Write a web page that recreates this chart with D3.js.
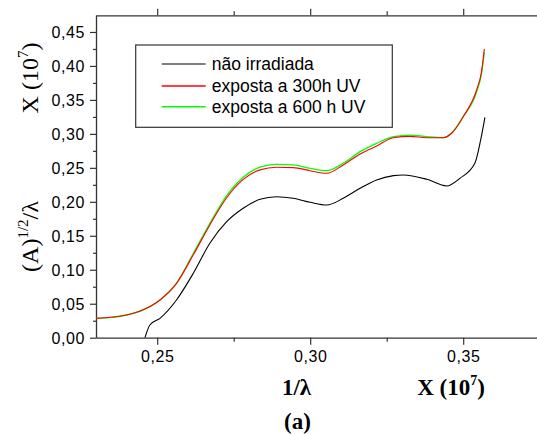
<!DOCTYPE html>
<html>
<head>
<meta charset="utf-8">
<script src="https://cdn.jsdelivr.net/npm/d3@7"></script>
<style>
  html, body { margin: 0; padding: 0; background: #fff; }
  svg { display: block; }
</style>
</head>
<body>
<svg id="chart" width="537" height="434"></svg>
<script>
// ---- data ----
const xColored = [0.2300, 0.2350, 0.2400, 0.2454, 0.2509, 0.2563, 0.2618, 0.2672, 0.2727, 0.2781, 0.2836, 0.2890, 0.2944, 0.3000, 0.3054, 0.3108, 0.3163, 0.3217, 0.3272, 0.3326, 0.3381, 0.3435, 0.3462, 0.3500, 0.3544, 0.3560, 0.3569];
const yGreen   = [0.0285, 0.0300, 0.0334, 0.0410, 0.0555, 0.0800, 0.1240, 0.1680, 0.2090, 0.2360, 0.2510, 0.2552, 0.2543, 0.2493, 0.2458, 0.2567, 0.2738, 0.2861, 0.2959, 0.2983, 0.2959, 0.2944, 0.3009, 0.3253, 0.3620, 0.3890, 0.4200];
const yRed     = [0.0285, 0.0300, 0.0334, 0.0410, 0.0555, 0.0800, 0.1220, 0.1660, 0.2060, 0.2330, 0.2470, 0.2508, 0.2504, 0.2458, 0.2420, 0.2542, 0.2704, 0.2822, 0.2944, 0.2964, 0.2944, 0.2944, 0.3009, 0.3253, 0.3650, 0.3920, 0.4250];
const xBlack   = [0.2460, 0.2476, 0.2509, 0.2563, 0.2618, 0.2672, 0.2727, 0.2781, 0.2836, 0.2890, 0.2944, 0.3000, 0.3054, 0.3108, 0.3163, 0.3217, 0.3272, 0.3304, 0.3381, 0.3446, 0.3489, 0.3538, 0.3557, 0.3571];
const yBlack   = [0.0000, 0.0187, 0.0285, 0.0555, 0.0948, 0.1390, 0.1707, 0.1905, 0.2037, 0.2075, 0.2052, 0.1993, 0.1953, 0.2052, 0.2199, 0.2321, 0.2385, 0.2395, 0.2331, 0.2233, 0.2346, 0.2567, 0.2910, 0.3244];

const seriesNames = ["não irradiada", "exposta a 300h UV", "exposta a 600 h UV"];
const seriesColors = ["#000000", "#ff0000", "#00ff00"];
const xMajorTicks = [0.25, 0.30, 0.35];
const xMinorTicks = [0.275, 0.325];
const yMajorTicks = [0.00, 0.05, 0.10, 0.15, 0.20, 0.25, 0.30, 0.35, 0.40, 0.45];
const yMinorTicks = [0.025, 0.075, 0.125, 0.175, 0.225, 0.275, 0.325, 0.375, 0.425];

// ---- layout ----
const svg = d3.select("#chart");
const leftX = 96, topY = 15.3, bottomY = 337.7;
const x = d3.scaleLinear().domain([0.23, 0.375]).range([leftX, leftX + 0.145 * 3060]);
const y = d3.scaleLinear().domain([0, 0.475]).range([bottomY, bottomY - 0.475 * 679.4]);
const fmt = d => d3.format(".2f")(d).replace(".", ",");
const axisColor = "#333";
const tickFont = "'Liberation Sans', Arial, sans-serif";
const serif = "'Liberation Serif', 'Times New Roman', serif";

function styleAxis(g) {
  g.select(".domain").attr("stroke", axisColor).attr("stroke-width", 1.3);
  g.selectAll(".tick line").attr("stroke", axisColor).attr("stroke-width", 1.2);
  g.selectAll(".tick text").attr("fill", "#000").style("font-family", tickFont)
    .style("font-size", "16px").style("letter-spacing", "0.6px");
}
function styleMinor(g) {
  g.select(".domain").remove();
  g.selectAll(".tick line").attr("stroke", axisColor).attr("stroke-width", 1.2);
}

// bottom axis
const gB = svg.append("g").attr("transform", `translate(0,${bottomY})`)
  .call(d3.axisBottom(x).tickValues(xMajorTicks).tickFormat(fmt).tickSize(7).tickSizeOuter(0));
styleAxis(gB);
gB.selectAll(".tick text").attr("dy", null).attr("y", 24.5);
svg.append("g").attr("transform", `translate(0,${bottomY})`)
  .call(d3.axisBottom(x).tickValues(xMinorTicks).tickFormat("").tickSize(4).tickSizeOuter(0))
  .call(styleMinor);

// top axis
const gT = svg.append("g").attr("transform", `translate(0,${topY})`)
  .call(d3.axisTop(x).tickValues(xMajorTicks).tickFormat("").tickSize(6.5).tickSizeOuter(0));
styleAxis(gT);
svg.append("g").attr("transform", `translate(0,${topY})`)
  .call(d3.axisTop(x).tickValues(xMinorTicks).tickFormat("").tickSize(4).tickSizeOuter(0))
  .call(styleMinor);

// left axis
const gL = svg.append("g").attr("transform", `translate(${leftX},0)`)
  .call(d3.axisLeft(y).tickValues(yMajorTicks).tickFormat(fmt).tickSize(6).tickPadding(5).tickSizeOuter(0));
styleAxis(gL);
gL.selectAll(".tick text").attr("dy", "0.34em");
svg.append("g").attr("transform", `translate(${leftX},0)`)
  .call(d3.axisLeft(y).tickValues(yMinorTicks).tickFormat("").tickSize(3).tickSizeOuter(0))
  .call(styleMinor);

// ---- curves ----
const line = d3.line().x(d => x(d[0])).y(d => y(d[1])).curve(d3.curveMonotoneX);
const dataBlack = xBlack.map((v, i) => [v, yBlack[i]]);
const dataRed = xColored.map((v, i) => [v, yRed[i]]);
const dataGreen = xColored.map((v, i) => [v, yGreen[i]]);
svg.append("path").datum(dataBlack).attr("d", line).attr("fill", "none").attr("stroke", seriesColors[0]).attr("stroke-width", 1.1);
svg.append("path").datum(dataGreen).attr("d", line).attr("fill", "none").attr("stroke", seriesColors[2]).attr("stroke-width", 1.3);
svg.append("path").datum(dataRed).attr("d", line).attr("fill", "none").attr("stroke", seriesColors[1]).attr("stroke-width", 1.1);

// ---- legend ----
svg.append("rect").attr("x", 135.7).attr("y", 45).attr("width", 256.6).attr("height", 82.3)
  .attr("fill", "none").attr("stroke", axisColor).attr("stroke-width", 1.2);
const legRows = [64, 86, 106.7];
seriesNames.forEach((name, i) => {
  svg.append("line").attr("x1", 161.7).attr("x2", 205.7).attr("y1", legRows[i]).attr("y2", legRows[i])
    .attr("stroke", seriesColors[i]).attr("stroke-width", i === 0 ? 1.1 : 1.4);
  svg.append("text").attr("x", 211.7).attr("y", legRows[i] + 6.3).text(name)
    .style("font-family", tickFont).style("font-size", "17.5px").attr("fill", "#000");
});

// ---- axis titles ----
const yt1 = svg.append("text").attr("transform", "translate(37.5,78) rotate(-90)")
  .attr("text-anchor", "middle").style("font-family", serif).style("font-size", "24px");
yt1.append("tspan").text("X (10");
yt1.append("tspan").attr("dy", -10).style("font-size", "15px").text("7");
yt1.append("tspan").attr("dy", 10).text(")");
const yt2 = svg.append("text").attr("transform", "translate(37.5,236.5) rotate(-90)")
  .attr("text-anchor", "middle").style("font-family", serif).style("font-size", "24px");
yt2.append("tspan").text("(A)");
yt2.append("tspan").attr("dy", -10).style("font-size", "15px").text("1/2");
yt2.append("tspan").attr("dy", 10).text("/λ");

svg.append("text").attr("x", 296.5).attr("y", 395).attr("text-anchor", "middle")
  .style("font-family", serif).style("font-size", "23px").style("font-weight", "bold").text("1/λ");
const xt2 = svg.append("text").attr("x", 451).attr("y", 395).attr("text-anchor", "middle")
  .style("font-family", serif).style("font-size", "23px").style("font-weight", "bold");
xt2.append("tspan").text("X (10");
xt2.append("tspan").attr("dy", -10).style("font-size", "14px").text("7");
xt2.append("tspan").attr("dy", 10).text(")");
svg.append("text").attr("x", 297.5).attr("y", 429).attr("text-anchor", "middle")
  .style("font-family", serif).style("font-size", "23px").style("font-weight", "bold").text("(a)");
</script>
</body>
</html>
